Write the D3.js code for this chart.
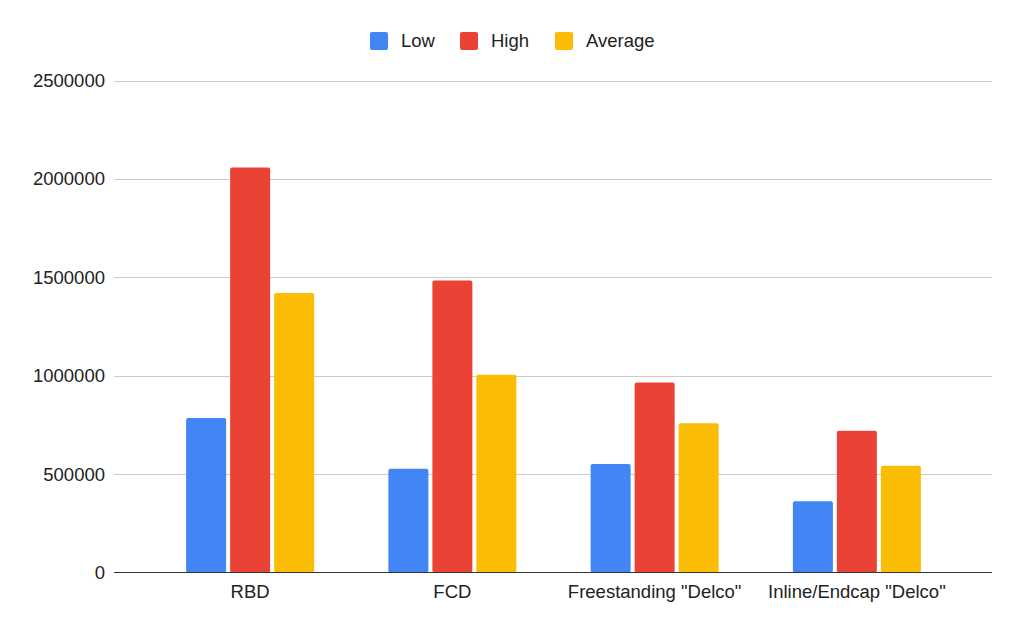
<!DOCTYPE html>
<html><head><meta charset="utf-8">
<script src="https://cdn.jsdelivr.net/npm/d3@7"></script>
<style>body{margin:0;background:#fff}svg{display:block}text{font-family:"Liberation Sans",Arial,sans-serif}</style>
</head><body><svg id="c" width="1024" height="633"></svg>
<script>
const categories = ["RBD", "FCD", "Freestanding \"Delco\"", "Inline/Endcap \"Delco\""];
const seriesNames = ["Low", "High", "Average"];
const lowValues = [785000, 527000, 551000, 362000];
const highValues = [2058000, 1484000, 966000, 720000];
const avgValues = [1420000, 1005000, 759000, 543000];
const yTicks = [0, 500000, 1000000, 1500000, 2000000, 2500000];
const colors = ["#4285F4", "#EA4335", "#FBBC04"];

const seriesValues = [lowValues, highValues, avgValues];
const svg = d3.select("#c");
const y = d3.scaleLinear().domain([0, 2500000]).range([572.5, 80.5]);
const x0 = d3.scaleBand().domain(categories).range([149, 958]);
const x1 = d3.scaleBand().domain(seriesNames).range([0, 128]).paddingInner(4/44);
const gridL = 114, gridR = 992;

svg.append("g").selectAll("line").data(yTicks.filter(d => d > 0)).join("line")
  .attr("x1", gridL).attr("x2", gridR)
  .attr("y1", d => Math.round(y(d)) + 0.5).attr("y2", d => Math.round(y(d)) + 0.5)
  .attr("stroke", "#cccccc").attr("stroke-width", 1);

svg.append("g").selectAll("text").data(yTicks).join("text")
  .attr("x", 105).attr("y", d => y(d)).attr("dy", "0.35em")
  .attr("text-anchor", "end").attr("font-size", 18.5).attr("fill", "#222")
  .text(d => d3.format("d")(d));

const groups = svg.append("g").selectAll("g").data(categories).join("g")
  .attr("transform", c => `translate(${x0(c) + (x0.bandwidth() - 128) / 2},0)`);
groups.selectAll("rect").data((c, i) => seriesNames.map((s, j) => ({s, v: seriesValues[j][i], j})))
  .join("rect")
  .attr("x", d => x1(d.s)).attr("width", x1.bandwidth())
  .attr("y", d => y(d.v)).attr("height", d => y(0) - y(d.v))
  .attr("rx", 2).attr("fill", d => colors[d.j]);

svg.append("line").attr("x1", gridL).attr("x2", gridR)
  .attr("y1", 572.5).attr("y2", 572.5).attr("stroke", "#333").attr("stroke-width", 1);

svg.append("g").selectAll("text").data(categories).join("text")
  .attr("x", c => x0(c) + x0.bandwidth() / 2).attr("y", 598)
  .attr("text-anchor", "middle").attr("font-size", 18.5).attr("fill", "#222")
  .text(c => c);

const legendX = [370, 460, 555];
const leg = svg.append("g").selectAll("g").data(seriesNames).join("g")
  .attr("transform", (d, i) => `translate(${legendX[i]},32)`);
leg.append("rect").attr("width", 18).attr("height", 18).attr("rx", 2)
  .attr("fill", (d, i) => colors[i]);
leg.append("text").attr("x", 31).attr("y", 9).attr("dy", "0.35em")
  .attr("font-size", 18.5).attr("fill", "#222").text(d => d);
</script></body></html>
